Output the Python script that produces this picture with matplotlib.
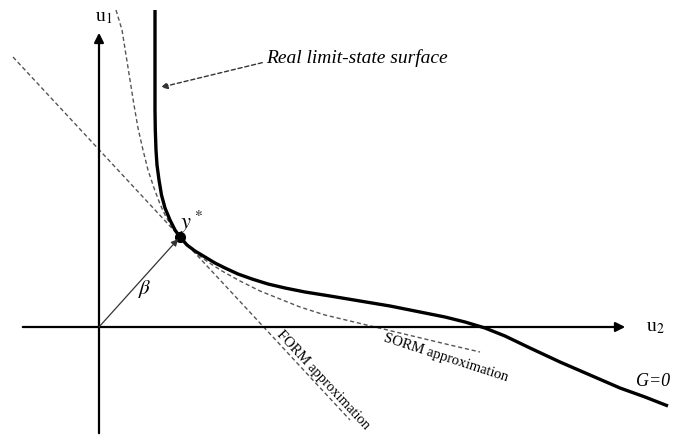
import matplotlib.pyplot as plt
import numpy as np

plt.rcParams['mathtext.fontset'] = 'stix'

# everything in picture pixel coordinates (y grows downward)
real_x = [155, 155, 155, 155.3, 156, 157, 159, 161.5, 165, 170, 175, 180,
          187, 195, 205, 215, 225, 238, 252, 268, 285, 305, 330, 360, 390,
          420, 445, 465, 485, 505, 530, 560, 590, 620, 645, 668]
real_y = [10, 60, 110, 130, 150, 165, 180, 195, 208, 220, 230, 237,
          245, 251, 257, 263, 268, 274, 279, 284, 288, 292, 296, 301, 306,
          312, 317, 322, 328, 336, 348, 362, 375, 388, 397, 406]

sorm_x = [116, 122, 126, 130, 134, 138, 143, 148, 154, 160, 166, 173, 180,
          188, 197, 208, 222, 240, 260, 280, 300, 325, 350, 375, 400, 425,
          450, 480]
sorm_y = [10, 30, 55, 80, 105, 128, 150, 170, 188, 204, 217, 228, 237,
          246, 254, 262, 271, 281, 291, 299, 307, 315, 321, 327, 333, 339,
          345, 352]

form_x = [13, 350]
form_y = [57, 420]

origin = (99, 327)
design_pt = (180, 237)

fig = plt.figure(figsize=(6.75, 4.38), dpi=100)
ax = fig.add_axes([0, 0, 1, 1])
ax.set_xlim(0, 675)
ax.set_ylim(438, 0)
ax.axis('off')

serif = 'Liberation Serif'

# axes arrows
ax.annotate('', xy=(99, 30), xytext=(99, 436),
            arrowprops=dict(arrowstyle='-|>', color='k', lw=1.6, mutation_scale=14))
ax.annotate('', xy=(628, 327), xytext=(20, 327),
            arrowprops=dict(arrowstyle='-|>', color='k', lw=1.6, mutation_scale=14))
ax.text(95, 17, 'u$_1$', fontsize=14, family=serif, va='center', ha='left')
ax.text(646, 328, 'u$_2$', fontsize=14, family=serif, va='center', ha='left')

# approximations
ax.plot(form_x, form_y, color='#555555', lw=1, ls=(0, (3, 2)))
ax.plot(sorm_x, sorm_y, color='#555555', lw=1, ls=(0, (3, 2)))

# real limit state
ax.plot(real_x, real_y, color='k', lw=2.4, solid_capstyle='butt',
        solid_joinstyle='round')

# beta vector
ax.annotate('', xy=design_pt, xytext=origin,
            arrowprops=dict(arrowstyle='-|>', color='#333333', lw=0.9, mutation_scale=10,
                            shrinkA=0, shrinkB=2))
ax.plot(*design_pt, 'o', color='k', ms=7)
ax.text(145, 289, r'$\beta$', fontsize=15, ha='center', va='center')
ax.text(180, 222, r'$y^*$', fontsize=16, ha='left', va='center')

# annotation
ax.annotate('', xy=(158, 88), xytext=(265, 62),
            arrowprops=dict(arrowstyle='-|>', color='#333333', lw=1, ls=(0, (3, 2)),
                            mutation_scale=10))
ax.text(266, 58, 'Real limit-state surface', fontsize=14, family=serif,
        style='italic', ha='left', va='center')

ax.text(323, 380, 'FORM approximation', fontsize=10.5, family=serif, rotation=-47,
        ha='center', va='center', rotation_mode='anchor')
ax.text(446, 358, 'SORM approximation', fontsize=10.5, family=serif, rotation=-18,
        ha='center', va='center', rotation_mode='anchor')
ax.text(636, 381, 'G=0', fontsize=13, family=serif, style='italic',
        ha='left', va='center')

fig.savefig('out.png', dpi=100)
